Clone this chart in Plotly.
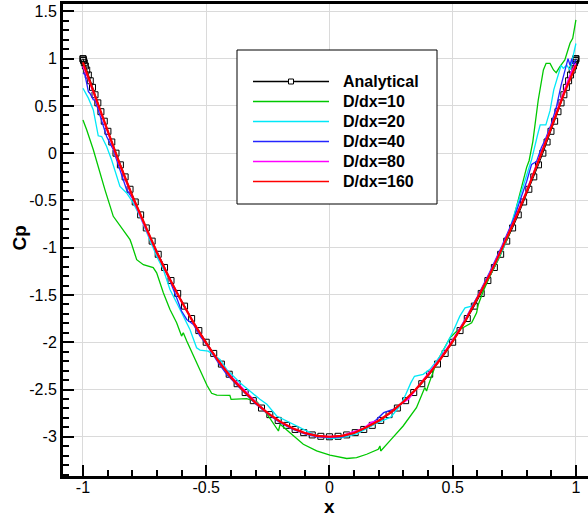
import plotly.graph_objects as go

# ---------------- data ----------------
analytical_x = [-1.0, -0.9994, -0.9976, -0.9945, -0.9903, -0.9848, -0.9782, -0.9703, -0.9613, -0.9511,
                -0.9397, -0.9272, -0.9136, -0.8988, -0.8830, -0.8660, -0.8481, -0.8290, -0.8090, -0.7880,
                -0.7660, -0.7431, -0.7193, -0.6947, -0.6691, -0.6428, -0.6157, -0.5878, -0.5592, -0.5299,
                -0.5000, -0.4695, -0.4384, -0.4067, -0.3746, -0.3420, -0.3090, -0.2756, -0.2419, -0.2079,
                -0.1737, -0.1392, -0.1045, -0.0698, -0.0349, 0.0,
                0.0349, 0.0698, 0.1045, 0.1392, 0.1737, 0.2079, 0.2419, 0.2756, 0.3090, 0.3420,
                0.3746, 0.4067, 0.4384, 0.4695, 0.5000, 0.5299, 0.5592, 0.5878, 0.6157, 0.6428,
                0.6691, 0.6947, 0.7193, 0.7431, 0.7660, 0.7880, 0.8090, 0.8290, 0.8481, 0.8660,
                0.8830, 0.8988, 0.9136, 0.9272, 0.9397, 0.9511, 0.9613, 0.9703, 0.9782, 0.9848,
                0.9903, 0.9945, 0.9976, 0.9994, 1.0]
analytical_cp = [1.0, 0.9951, 0.9805, 0.9563, 0.9225, 0.8794, 0.8271, 0.7659, 0.6961, 0.6180,
                 0.5321, 0.4387, 0.3383, 0.2313, 0.1184, 0.0, -0.1233, -0.2508, -0.3820, -0.5162,
                 -0.6527, -0.7909, -0.9302, -1.0698, -1.2091, -1.3473, -1.4838, -1.6180, -1.7492, -1.8767,
                 -2.0, -2.1184, -2.2313, -2.3383, -2.4387, -2.5321, -2.6180, -2.6961, -2.7659, -2.8271,
                 -2.8794, -2.9225, -2.9563, -2.9805, -2.9951, -3.0,
                 -2.9951, -2.9805, -2.9563, -2.9225, -2.8794, -2.8271, -2.7659, -2.6961, -2.6180, -2.5321,
                 -2.4387, -2.3383, -2.2313, -2.1184, -2.0, -1.8767, -1.7492, -1.6180, -1.4838, -1.3473,
                 -1.2091, -1.0698, -0.9302, -0.7909, -0.6527, -0.5162, -0.3820, -0.2508, -0.1233, 0.0,
                 0.1184, 0.2313, 0.3383, 0.4387, 0.5321, 0.6180, 0.6961, 0.7659, 0.8271, 0.8794,
                 0.9225, 0.9563, 0.9805, 0.9951, 1.0]

d10_x = [-1.0, -0.985, -0.958, -0.931, -0.911, -0.877, -0.837, -0.809, -0.802, -0.789,
         -0.782, -0.755, -0.715, -0.701, -0.674, -0.647, -0.620, -0.600, -0.593, -0.579,
         -0.551, -0.539, -0.524, -0.497, -0.478, -0.457, -0.404, -0.399, -0.336, -0.294,
         -0.268, -0.248, -0.207, -0.200, -0.159, -0.106, -0.052, 0.002, 0.070, 0.110,
         0.151, 0.198, 0.205, 0.208, 0.245, 0.299, 0.353, 0.387, 0.394, 0.400,
         0.434, 0.462, 0.489, 0.516, 0.543, 0.577, 0.597, 0.604, 0.624, 0.651,
         0.685, 0.692, 0.732, 0.755, 0.775, 0.790, 0.800, 0.810, 0.825, 0.847,
         0.861, 0.868, 0.879, 0.895, 0.909, 0.920, 0.935, 0.955, 0.976, 0.987, 1.0]
d10_cp = [0.35, 0.247, 0.036, -0.21, -0.386, -0.668, -0.81, -0.915, -0.967, -1.07,
          -1.127, -1.18, -1.21, -1.266, -1.477, -1.654, -1.794, -1.935, -1.90, -1.988,
          -2.147, -2.217, -2.287, -2.455, -2.54, -2.56, -2.562, -2.604, -2.597, -2.63,
          -2.71, -2.78, -2.939, -2.868, -2.96, -3.079, -3.15, -3.195, -3.23, -3.22,
          -3.185, -3.132, -3.097, -3.15, -3.044, -2.886, -2.692, -2.48, -2.516, -2.464,
          -2.217, -2.076, -1.953, -1.883, -1.847, -1.794, -1.689, -1.60, -1.46, -1.302,
          -1.126, -1.09, -0.84, -0.60, -0.40, -0.25, -0.15, -0.08, 0.12, 0.56,
          0.78, 0.88, 0.95, 0.95, 0.88, 0.852, 0.916, 0.986, 1.163, 1.215, 1.41]

d20_x = [-1.0, -0.978, -0.958, -0.944, -0.938, -0.924, -0.904, -0.884, -0.857, -0.850,
         -0.823, -0.796, -0.769, -0.735, -0.701, -0.674, -0.647, -0.620, -0.593, -0.566,
         -0.539, -0.525, -0.492, -0.444, -0.417, -0.363, -0.282, -0.254, -0.214, -0.120,
         -0.060, 0.0, 0.050, 0.110, 0.190, 0.250, 0.290, 0.310, 0.330, 0.345,
         0.380, 0.408, 0.449, 0.475, 0.502, 0.529, 0.550, 0.577, 0.611, 0.651,
         0.710, 0.753, 0.793, 0.820, 0.845, 0.855, 0.878, 0.895, 0.910, 0.940,
         0.949, 0.963, 0.976, 1.0]
d20_cp = [0.687, 0.582, 0.458, 0.265, 0.184, 0.176, 0.07, -0.07, -0.281, -0.352,
          -0.421, -0.527, -0.668, -0.88, -1.09, -1.231, -1.442, -1.583, -1.724, -1.865,
          -2.058, -2.083, -2.094, -2.182, -2.287, -2.428, -2.604, -2.657, -2.78, -2.90,
          -2.98, -3.02, -3.01, -2.97, -2.86, -2.79, -2.66, -2.55, -2.43, -2.36,
          -2.34, -2.287, -2.147, -2.023, -1.883, -1.724, -1.636, -1.619, -1.477, -1.29,
          -0.98, -0.62, -0.30, -0.07, 0.20, 0.30, 0.30, 0.45, 0.67, 0.93,
          0.898, 0.93, 0.88, 1.16]

d40_x = [-1.0, -0.992, -0.985, -0.978, -0.972, -0.958, -0.951, -0.931, -0.904, -0.877,
         -0.850, -0.823, -0.796, -0.755, -0.700, -0.650, -0.620, -0.600, -0.579, -0.552,
         -0.525, -0.500, -0.450, -0.417, -0.380, -0.350, -0.300, -0.250, -0.200, -0.150,
         -0.100, -0.050, 0.0, 0.050, 0.100, 0.150, 0.190, 0.220, 0.247, 0.270,
         0.300, 0.350, 0.400, 0.450, 0.500, 0.550, 0.600, 0.650, 0.700, 0.750,
         0.780, 0.800, 0.820, 0.840, 0.860, 0.875, 0.900, 0.920, 0.940, 0.955,
         0.968, 0.976, 0.983, 0.990, 1.0]
d40_cp = [0.85, 0.828, 0.74, 0.65, 0.634, 0.564, 0.564, 0.388, 0.176, 0.036,
          -0.175, -0.386, -0.492, -0.72, -1.06, -1.33, -1.53, -1.67, -1.759, -1.812,
          -1.935, -2.02, -2.22, -2.34, -2.44, -2.52, -2.65, -2.76, -2.85, -2.92,
          -2.97, -3.0, -3.01, -3.0, -2.96, -2.90, -2.82, -2.745, -2.717, -2.70,
          -2.63, -2.50, -2.35, -2.18, -1.98, -1.76, -1.52, -1.26, -0.98, -0.68,
          -0.45, -0.30, -0.12, -0.09, 0.06, 0.14, 0.31, 0.48, 0.72, 0.88,
          1.0, 0.93, 1.0, 0.94, 0.99]

d80_x = [-1.0, -0.98, -0.95, -0.90, -0.85, -0.80, -0.75, -0.70, -0.65, -0.60,
         -0.55, -0.50, -0.45, -0.40, -0.35, -0.30, -0.25, -0.20, -0.15, -0.10,
         -0.05, 0.0, 0.05, 0.10, 0.14, 0.17, 0.20, 0.25, 0.29, 0.32,
         0.35, 0.40, 0.45, 0.50, 0.55, 0.60, 0.65, 0.70, 0.75, 0.80,
         0.85, 0.90, 0.95, 0.98, 1.0]
d80_cp = [0.92, 0.80, 0.59, 0.22, -0.13, -0.46, -0.77, -1.05, -1.32, -1.57,
          -1.80, -2.01, -2.20, -2.36, -2.50, -2.63, -2.75, -2.84, -2.91, -2.96,
          -2.99, -3.0, -2.99, -2.95, -2.91, -2.85, -2.83, -2.74, -2.65, -2.60,
          -2.50, -2.34, -2.17, -1.98, -1.77, -1.53, -1.28, -1.00, -0.71, -0.40,
          -0.07, 0.28, 0.64, 0.85, 0.95]

d160_x = [-1.0, -0.95, -0.90, -0.85, -0.80, -0.75, -0.70, -0.65, -0.60, -0.55,
          -0.50, -0.45, -0.40, -0.35, -0.30, -0.25, -0.20, -0.15, -0.10, -0.05,
          0.0, 0.05, 0.10, 0.15, 0.20, 0.25, 0.30, 0.35, 0.40, 0.45,
          0.50, 0.55, 0.60, 0.65, 0.70, 0.75, 0.80, 0.85, 0.90, 0.95, 1.0]
d160_cp = [0.96, 0.60, 0.23, -0.12, -0.45, -0.76, -1.05, -1.32, -1.57, -1.80,
           -2.01, -2.20, -2.37, -2.51, -2.64, -2.75, -2.84, -2.91, -2.96, -2.99,
           -3.0, -2.99, -2.96, -2.90, -2.83, -2.74, -2.63, -2.50, -2.35, -2.18,
           -1.99, -1.78, -1.54, -1.29, -1.01, -0.72, -0.41, -0.08, 0.27, 0.62, 0.93]

series_names = ["Analytical", "D/dx=10", "D/dx=20", "D/dx=40", "D/dx=80", "D/dx=160"]
series_colors = ["#000000", "#00c800", "#00e8f8", "#2424ff", "#ff00ff", "#ff0000"]
series_widths = [1, 1.3, 1.3, 1.3, 1.8, 2.2]

x_tick_vals = [-1, -0.5, 0, 0.5, 1]
x_tick_text = ["-1", "-0.5", "0", "0.5", "1"]
y_tick_vals = [1.5, 1, 0.5, 0, -0.5, -1, -1.5, -2, -2.5, -3]
y_tick_text = ["1.5", "1", "0.5", "0", "-0.5", "-1", "-1.5", "-2", "-2.5", "-3"]

FONT = "Liberation Sans, Arial, Helvetica, sans-serif"

fig = go.Figure()

fig.add_trace(go.Scatter(
    x=analytical_x, y=analytical_cp, mode="lines+markers", name=series_names[0],
    line=dict(color=series_colors[0], width=series_widths[0]),
    marker=dict(symbol="square-open", size=6, color="black", line=dict(width=1, color="black")),
    showlegend=False))

for xs, ys, nm, col, w in [(d10_x, d10_cp, series_names[1], series_colors[1], series_widths[1]),
                           (d20_x, d20_cp, series_names[2], series_colors[2], series_widths[2]),
                           (d40_x, d40_cp, series_names[3], series_colors[3], series_widths[3]),
                           (d80_x, d80_cp, series_names[4], series_colors[4], series_widths[4]),
                           (d160_x, d160_cp, series_names[5], series_colors[5], series_widths[5])]:
    fig.add_trace(go.Scatter(x=xs, y=ys, mode="lines", name=nm,
                             line=dict(color=col, width=w), showlegend=False))

# ---------------- custom legend box (paper coords) ----------------
W, H = 588, 518
L, R, T, B = 63, 0, 4, 42
PW, PH = W - L - R, H - T - B


def px(xp):
    return (xp - L) / PW


def py(yp):
    return (H - B - yp) / PH


shapes = [dict(type="rect", xref="paper", yref="paper",
               x0=px(237), x1=px(437), y0=py(204), y1=py(50),
               line=dict(color="black", width=1), fillcolor="white", layer="above")]
annotations = []
row_y = [81.5, 101.5, 121.5, 141.5, 161.5, 181.5]
for i, nm in enumerate(series_names):
    shapes.append(dict(type="line", xref="paper", yref="paper",
                       x0=px(253), x1=px(329), y0=py(row_y[i]), y1=py(row_y[i]),
                       line=dict(color=series_colors[i], width=1.3), layer="above"))
    annotations.append(dict(text="<b>%s</b>" % nm, xref="paper", yref="paper",
                            x=px(341), y=py(row_y[i]), xanchor="left", yanchor="middle",
                            showarrow=False, font=dict(family=FONT, size=16, color="black")))
shapes.append(dict(type="rect", xref="paper", yref="paper",
                   x0=px(288.5), x1=px(293.5), y0=py(row_y[0] + 2.5), y1=py(row_y[0] - 2.5),
                   line=dict(color="black", width=1), fillcolor="white", layer="above"))

annotations.append(dict(text="<b>x</b>", xref="paper", yref="paper", x=px(329), y=py(507),
                        xanchor="center", yanchor="middle", showarrow=False,
                        font=dict(family=FONT, size=19, color="black")))
annotations.append(dict(text="<b>Cp</b>", xref="paper", yref="paper", x=px(18.5), y=py(238),
                        xanchor="center", yanchor="middle", showarrow=False, textangle=-90,
                        font=dict(family=FONT, size=19, color="black")))

fig.update_layout(
    width=W, height=H,
    margin=dict(l=L, r=R, t=T, b=B, pad=0),
    paper_bgcolor="white", plot_bgcolor="white",
    font=dict(family=FONT, size=16, color="black"),
    showlegend=False,
    shapes=shapes, annotations=annotations,
    xaxis=dict(range=[-1.081, 1.049], tickmode="array", tickvals=x_tick_vals, ticktext=x_tick_text,
               ticks="inside", ticklen=11, tickwidth=2, tickcolor="black", ticklabelstandoff=-5,
               showline=True, linecolor="black", linewidth=3, mirror=True,
               showgrid=True, gridcolor="#dadada", gridwidth=1, zeroline=False,
               minor=dict(dtick=0.1, tick0=0, ticks="inside", ticklen=6, tickwidth=1.5,
                          tickcolor="black", showgrid=False),
               tickfont=dict(family=FONT, size=16, color="black")),
    yaxis=dict(range=[-3.415, 1.578], tickmode="array", tickvals=y_tick_vals, ticktext=y_tick_text,
               ticks="inside", ticklen=11, tickwidth=2, tickcolor="black",
               showline=True, linecolor="black", linewidth=3, mirror=False,
               showgrid=True, gridcolor="#dadada", gridwidth=1, zeroline=False,
               minor=dict(dtick=0.1, tick0=0, ticks="inside", ticklen=6, tickwidth=1.5,
                          tickcolor="black", showgrid=False),
               tickfont=dict(family=FONT, size=16, color="black")),
)

fig.write_html("out.html", config={"displayModeBar": False},
               post_script="document.body.style.margin='0';document.body.style.overflow='hidden';")
